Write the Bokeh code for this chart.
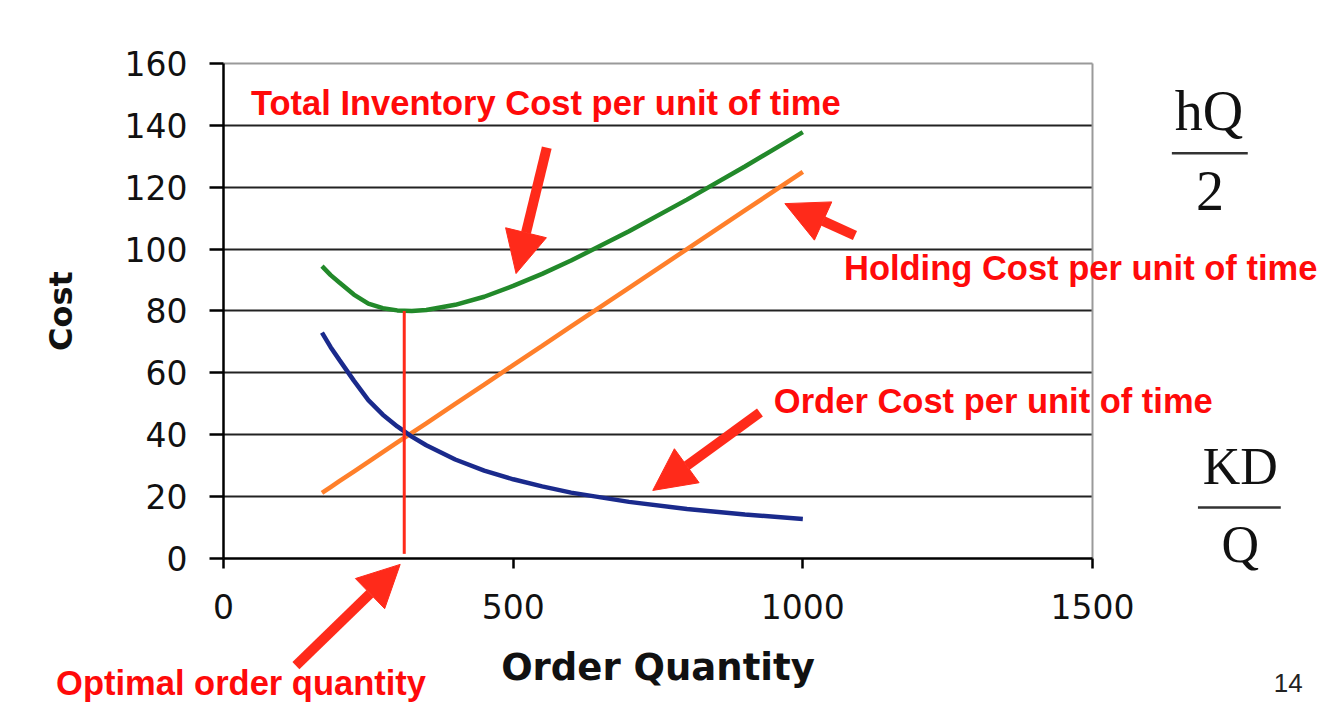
from bokeh.plotting import figure
from bokeh.models import Arrow, NormalHead, Label, FixedTicker, Range1d, LinearAxis, Grid
from bokeh.embed import file_html
from bokeh.resources import INLINE

# ---- data ----
order_qty = [170, 185, 200, 225, 250, 275, 300, 325, 350, 400, 450, 500, 550, 600, 700, 800, 900, 1000]
holding_cost = [21.2, 23.1, 25, 28.1, 31.2, 34.4, 37.5, 40.6, 43.7, 50, 56.2, 62.5, 68.7, 75, 87.5, 100, 112.5, 125]
order_cost = [73, 68.3, 64.2, 57.5, 51.2, 46.5, 42.7, 39.4, 36.6, 32, 28.4, 25.6, 23.3, 21.3, 18.3, 16, 14.2, 12.8]
total_cost = [94.5, 91.6, 89.2, 85.3, 82.4, 80.9, 80.2, 80.0, 80.3, 82, 84.6, 88.1, 92, 96.3, 105.8, 116, 126.7, 137.8]

optimal_q = [312]
optimal_low = [1.5]
optimal_cost = [80]

x_ticks = [0, 500, 1000, 1500]
y_ticks = [0, 20, 40, 60, 80, 100, 120, 140, 160]
grid_ticks = [20, 40, 60, 80, 100, 120, 140]

# annotation anchors in data units: (x, y)
label_total = (47.5, 147.1)
label_holding = (1071, 93.8)
label_order = (950, 50.8)
label_optimal = (-289, -40.1)
label_page = (1813, -40.4)

# arrows: (x_start, y_start, x_end, y_end)
arrow_total = (558, 132.8, 505, 92.1)
arrow_holding = (1090, 104.4, 969, 114.7)
arrow_order = (926, 47.2, 741, 22.0)
arrow_optimal = (125, -34.6, 305, -1.9)

# formulas: numerator, bar, denominator
hq_num = (1701, 144.8)
hq_bar = (1637, 1768, 131.0)
hq_den = (1703, 118.9)
kd_num = (1755, 29.7)
kd_bar = (1682, 1825, 16.5)
kd_den = (1755, 4.6)

RED_TEXT = "#ff0a0a"
RED_ARROW = "#ff2a1a"

# the frame covers the whole canvas so that annotations outside the axes box are not clipped
p = figure(width=1318, height=707, x_range=Range1d(-384.9, 1890.1), y_range=Range1d(-48.16, 180.36),
           output_backend="svg", toolbar_location=None, x_axis_type=None, y_axis_type=None,
           min_border=0, min_border_left=0, min_border_right=0, min_border_top=0, min_border_bottom=0,
           background_fill_color="white", border_fill_color="white")
p.outline_line_color = None

# horizontal grid lines, limited to the axes box
grid = Grid(dimension=1, ticker=FixedTicker(ticks=grid_ticks), grid_line_color="#222222", grid_line_width=2)
if "cross_bounds" in Grid.properties():
    grid.cross_bounds = (x_ticks[0], x_ticks[-1])
    p.add_layout(grid)
else:
    p.segment(x0=[x_ticks[0]] * len(grid_ticks), y0=grid_ticks,
              x1=[x_ticks[-1]] * len(grid_ticks), y1=grid_ticks,
              line_color="#222222", line_width=2)

# plot-area border (top and right, grey)
p.segment(x0=[x_ticks[0], x_ticks[-1]], y0=[y_ticks[-1], y_ticks[0]],
          x1=[x_ticks[-1], x_ticks[-1]], y1=[y_ticks[-1], y_ticks[-1]],
          line_color="#9a9a9a", line_width=2)

xaxis = LinearAxis(fixed_location=0, bounds=(x_ticks[0], x_ticks[-1]), ticker=FixedTicker(ticks=x_ticks),
                   axis_label="Order Quantity")
yaxis = LinearAxis(fixed_location=0, bounds=(y_ticks[0], y_ticks[-1]), ticker=FixedTicker(ticks=y_ticks),
                   axis_label="Cost")
for ax in (xaxis, yaxis):
    ax.axis_line_color = "black"
    ax.axis_line_width = 2.5
    ax.major_tick_line_color = "black"
    ax.major_tick_line_width = 2.5
    ax.major_tick_in = 0
    ax.minor_tick_line_color = None
    ax.major_label_text_font = "DejaVu Sans"
    ax.major_label_text_font_size = "33px"
    ax.major_label_text_color = "#111111"
    ax.axis_label_text_font = "DejaVu Sans"
    ax.axis_label_text_font_style = "bold"
    ax.axis_label_text_color = "#111111"
xaxis.major_tick_out = 10
yaxis.major_tick_out = 14
xaxis.major_label_standoff = 25
yaxis.major_label_standoff = 22
xaxis.axis_label_text_font_size = "37px"
yaxis.axis_label_text_font_size = "32px"
xaxis.axis_label_standoff = 24
yaxis.axis_label_standoff = 42
p.add_layout(xaxis, "below")
p.add_layout(yaxis, "left")

# curves
p.line(order_qty, total_cost, line_color="#22892a", line_width=4.5)
p.line(order_qty, holding_cost, line_color="#ff7f2a", line_width=4.5)
p.line(order_qty, order_cost, line_color="#1a2a8c", line_width=4.5)

# optimal order quantity marker
p.segment(x0=optimal_q, y0=optimal_low, x1=optimal_q, y1=optimal_cost,
          line_color=RED_ARROW, line_width=3)

# arrows
for a in (arrow_total, arrow_holding, arrow_order, arrow_optimal):
    p.add_layout(Arrow(end=NormalHead(size=42, fill_color=RED_ARROW, line_color=RED_ARROW, line_width=1),
                       x_start=a[0], y_start=a[1], x_end=a[2], y_end=a[3],
                       line_color=RED_ARROW, line_width=10))

# red annotation texts
for txt, pos in (("Total Inventory Cost per unit of time", label_total),
                 ("Holding Cost per unit of time", label_holding),
                 ("Order Cost per unit of time", label_order),
                 ("Optimal order quantity", label_optimal)):
    p.add_layout(Label(x=pos[0], y=pos[1], text=txt, text_font="Liberation Sans",
                       text_font_style="bold", text_font_size="34.5px", text_color=RED_TEXT,
                       text_align="left", text_baseline="alphabetic"))

p.add_layout(Label(x=label_page[0], y=label_page[1], text="14", text_font="Liberation Sans",
                   text_font_size="26px", text_color="#222222", text_align="left",
                   text_baseline="alphabetic"))

# formulas
for txt, pos, size in (("hQ", hq_num, "56px"), ("2", hq_den, "56px"),
                       ("KD", kd_num, "52px"), ("Q", kd_den, "52px")):
    p.add_layout(Label(x=pos[0], y=pos[1], text=txt, text_font="Liberation Serif",
                       text_font_size=size, text_color="#111111", text_align="center",
                       text_baseline="alphabetic"))
for bar in (hq_bar, kd_bar):
    p.add_layout(Arrow(end=None, x_start=bar[0], y_start=bar[2], x_end=bar[1], y_end=bar[2],
                       line_color="#333333", line_width=2.5))

open("out.html", "w").write(file_html(p, INLINE))
